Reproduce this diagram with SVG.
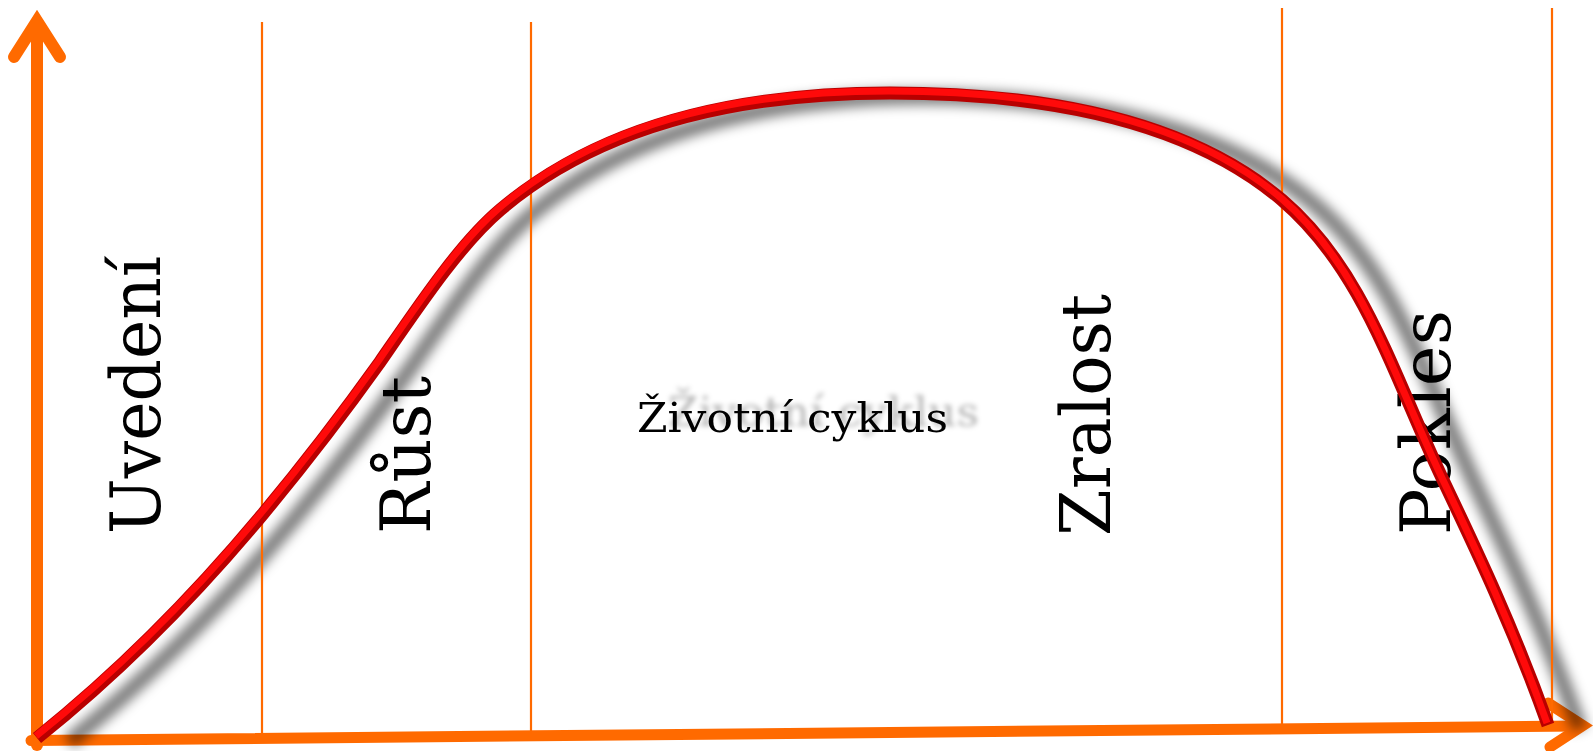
<svg xmlns="http://www.w3.org/2000/svg" width="1593" height="751" viewBox="0 0 1593 751">
<style>
.axis{fill:none;stroke:#ff6a00;stroke-linecap:round;stroke-linejoin:miter}
.vline{stroke:#ff6a00;stroke-width:2.2}
.lbl{font-family:"DejaVu Serif","Liberation Serif",serif;font-size:70px;fill:#000}
.mid{font-family:"DejaVu Serif","Liberation Serif",serif;font-size:41px;fill:#000}
</style>
<defs>
<filter id="sh" x="-10%" y="-10%" width="120%" height="120%"><feGaussianBlur stdDeviation="6"/></filter>
<filter id="tsh" x="-10%" y="-60%" width="130%" height="220%">
<feGaussianBlur in="SourceAlpha" stdDeviation="2.5" result="b"/>
<feOffset in="b" dx="31" dy="-6" result="o"/>
<feFlood flood-color="#000" flood-opacity="0.3"/>
<feComposite in2="o" operator="in" result="s"/>
<feMerge><feMergeNode in="s"/><feMergeNode in="SourceGraphic"/></feMerge>
</filter>
<path id="curve" d="M37,738 C112,678 187,605 262,515 C301.3,467.8 340.7,417 380,362 C420,304 460,244 500,210 C610,116.5 760,93 890,93 C1030,93 1182,115 1282,200 C1364,270 1393,375 1443,480 C1478,553.5 1513,627 1548,725"/>
</defs>
<g id="axes">
<path class="axis" stroke-width="12" d="M37,745 V22"/>
<path class="axis" stroke-width="12" d="M14,57 L37,21 L60,57"/>
<path class="axis" stroke-width="11" d="M31,740.5 L1580,726"/>
<path class="axis" stroke-width="11" d="M1548,703 L1583,725.5 L1550,747"/>
</g>
<g id="curve-shadow">
<use href="#curve" transform="translate(32,4)" fill="none" stroke="#000" stroke-opacity="0.5" stroke-width="16" filter="url(#sh)"/>
</g>
<g id="connectors">
<line class="vline" x1="262" y1="22" x2="262" y2="733"/>
<line class="vline" x1="531" y1="22" x2="531" y2="731"/>
<line class="vline" x1="1282" y1="8" x2="1282" y2="725"/>
<line class="vline" x1="1552" y1="8" x2="1552" y2="724"/>
</g>
<g id="labels">
<g id="uvedeni"><text class="lbl" transform="translate(160,534) rotate(-90)" textLength="278" lengthAdjust="spacingAndGlyphs">Uvedení</text></g>
<g id="rust"><text class="lbl" transform="translate(430,534) rotate(-90)" textLength="158" lengthAdjust="spacingAndGlyphs">Růst</text></g>
<g id="zralost"><text class="lbl" transform="translate(1110,536) rotate(-90)" textLength="242" lengthAdjust="spacingAndGlyphs">Zralost</text></g>
<g id="pokles"><text class="lbl" transform="translate(1450,535) rotate(-90)" textLength="225" lengthAdjust="spacingAndGlyphs">Pokles</text></g>
<g id="zivotni-cyklus">
<text class="mid" x="637" y="432" filter="url(#tsh)" textLength="311" lengthAdjust="spacingAndGlyphs">Životní cyklus</text>
</g>
</g>
<g id="life-curve">
<use href="#curve" fill="none" stroke="#b80000" stroke-width="13" stroke-linecap="butt"/>
<use href="#curve" transform="translate(-1,-2)" fill="none" stroke="#ff0a0a" stroke-width="7"/>
</g>
</svg>
